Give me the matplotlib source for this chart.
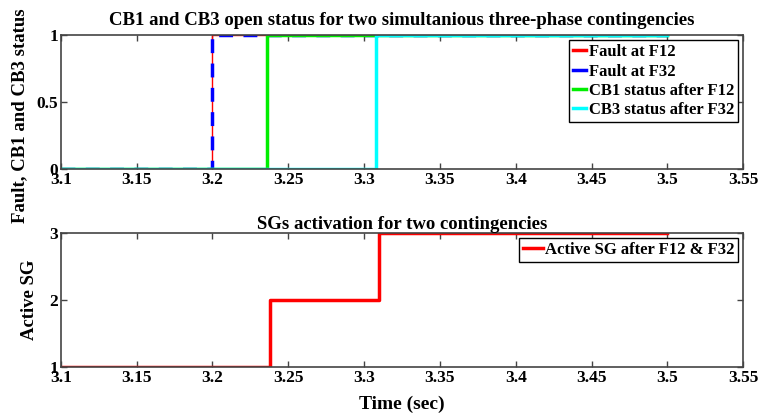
import matplotlib
matplotlib.use("Agg")
import matplotlib.pyplot as plt
from matplotlib.lines import Line2D

plt.rcParams['font.family'] = ['Liberation Serif', 'DejaVu Serif']
plt.rcParams['font.weight'] = 'bold'

# Data
t_f12 = [3.1, 3.2, 3.2, 3.5]
fault_f12 = [0, 0, 1, 1]
t_f32 = [3.1, 3.2, 3.2, 3.5]
fault_f32 = [0, 0, 1, 1]
t_cb1 = [3.1, 3.236, 3.236, 3.5]
cb1 = [0, 0, 1, 1]
t_cb3 = [3.1, 3.308, 3.308, 3.5]
cb3 = [0, 0, 1, 1]
t_sg = [3.1, 3.238, 3.238, 3.31, 3.31, 3.5]
active_sg = [1, 1, 2, 2, 3, 3]

xticks = [3.1, 3.15, 3.2, 3.25, 3.3, 3.35, 3.4, 3.45, 3.5, 3.55]
xticklabels = ['3.1', '3.15', '3.2', '3.25', '3.3', '3.35', '3.4', '3.45', '3.5', '3.55']
labels_top = ['Fault at F12', 'Fault at F32', 'CB1 status after F12', 'CB3 status after F32']
colors_top = ['red', 'blue', '#00ee00', 'cyan']

fig = plt.figure(figsize=(7.6, 4.18), dpi=100)
ax1 = fig.add_axes([0.080, 0.596, 0.898, 0.320])
ax2 = fig.add_axes([0.080, 0.122, 0.898, 0.321])

lw = 2.5
ax1.plot(t_f12, fault_f12, color=colors_top[0], lw=1.0)
ax1.plot(t_f32, fault_f32, color=colors_top[1], lw=lw, ls=(0, (4, 3)))
ax1.plot(t_cb1, cb1, color=colors_top[2], lw=lw)
ax1.plot(t_cb3, cb3, color=colors_top[3], lw=lw)
ax1.set_ylim(0, 1)
ax1.set_yticks([0, 0.5, 1])
ax1.set_yticklabels(['0', '0.5', '1'])
ax1.set_title('CB1 and CB3 open status for two simultanious three-phase contingencies',
              fontsize=13.5, fontweight='bold', pad=7)
ax1.set_ylabel('Fault, CB1 and CB3 status', fontsize=13.5, fontweight='bold')
ax1.yaxis.set_label_coords(-0.047, 0.40)

handles = [Line2D([], [], color=c, lw=lw) for c in colors_top]
leg1 = ax1.legend(handles, labels_top, loc='upper right', fontsize=12, frameon=True, fancybox=False,
                  edgecolor='black', handlelength=0.8, handletextpad=0.15,
                  borderpad=0.25, labelspacing=0.2, borderaxespad=0.3, framealpha=1)
leg1.get_frame().set_linewidth(1.0)

ax2.plot(t_sg, active_sg, color='red', lw=lw, label='Active SG after F12 & F32')
ax2.set_ylim(1, 3)
ax2.set_yticks([1, 2, 3])
ax2.set_title('SGs activation for two contingencies', fontsize=13.5, fontweight='bold', pad=3)
ax2.set_ylabel('Active SG', fontsize=13.5, fontweight='bold')
ax2.yaxis.set_label_coords(-0.033, 0.5)
ax2.set_xlabel('Time (sec)', fontsize=14, fontweight='bold', labelpad=7)
leg2 = ax2.legend(loc='upper right', fontsize=12, frameon=True, fancybox=False,
                  edgecolor='black', handlelength=1.2, handletextpad=0.1,
                  borderpad=0.25, borderaxespad=0.3, framealpha=1)
leg2.get_frame().set_linewidth(1.0)

for ax in (ax1, ax2):
    ax.set_xlim(3.1, 3.55)
    ax.set_xticks(xticks)
    ax.set_xticklabels(xticklabels)
    ax.tick_params(direction='in', top=True, right=True, length=4,
                   labelsize=12.5, width=1, color='#444444', pad=2)
    for lab in ax.get_xticklabels() + ax.get_yticklabels():
        lab.set_fontweight('bold')
    for s in ax.spines.values():
        s.set_color('#444444')
        s.set_linewidth(1.2)

fig.savefig('out.png', dpi=100)
